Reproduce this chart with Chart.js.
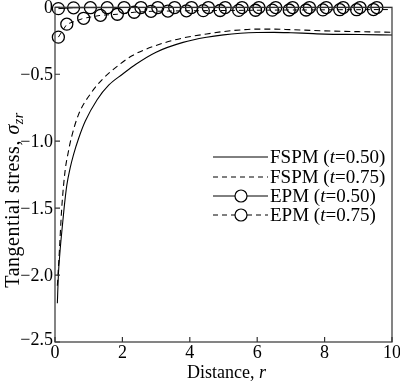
<!DOCTYPE html>
<html>
<head>
<meta charset="utf-8">
<script src="https://cdn.jsdelivr.net/npm/chart.js@4.4.1/dist/chart.umd.min.js"></script>
<style>
  html, body { margin: 0; padding: 0; background: #fff; }
  canvas { display: block; }
</style>
</head>
<body>
<canvas id="grafico" width="400" height="385"></canvas>
<script>
// valores
const fspmX50 = [0.07, 0.1, 0.15, 0.2, 0.27, 0.35, 0.45, 0.55, 0.7, 0.9, 1.25, 1.6, 2.0, 2.4, 3.0, 3.8, 4.5, 5.0, 5.5, 6.0, 6.5, 7.0, 7.5, 8.0, 9.0, 10.0];
const fspmY50 = [-2.21, -2.0, -1.82, -1.68, -1.5, -1.33, -1.2, -1.1, -0.98, -0.85, -0.69, -0.58, -0.5, -0.425, -0.335, -0.262, -0.224, -0.206, -0.194, -0.188, -0.187, -0.19, -0.195, -0.2, -0.203, -0.207];

const fspmX75 = [0.07, 0.13, 0.2, 0.3, 0.38, 0.48, 0.7, 1.1, 1.4, 1.75, 2.3, 3.0, 3.8, 4.5, 5.0, 5.5, 6.0, 6.5, 7.0, 8.0, 9.0, 10.0];
const fspmY75 = [-2.08, -1.82, -1.5, -1.22, -1.1, -0.98, -0.8, -0.63, -0.54, -0.46, -0.36, -0.285, -0.229, -0.199, -0.181, -0.169, -0.163, -0.163, -0.167, -0.176, -0.182, -0.186];

const epmX50 = [0.1, 0.55, 1.05, 1.55, 2.05, 2.55, 3.05, 3.55, 4.05, 4.55, 5.05, 5.55, 6.05, 6.55, 7.05, 7.55, 8.05, 8.55, 9.05, 9.55, 10.0];
const epmY50 = [-0.01, -0.004, -0.003, -0.003, -0.002, -0.002, -0.002, -0.002, -0.002, -0.002, -0.002, -0.002, -0.002, -0.002, -0.002, -0.002, -0.002, -0.002, -0.002, -0.002, -0.002];

const epmX75 = [0.1, 0.35, 0.85, 1.35, 1.85, 2.35, 2.85, 3.35, 3.9, 4.4, 4.9, 5.45, 5.95, 6.45, 6.95, 7.45, 7.95, 8.45, 8.95, 9.45, 10.0];
const epmY75 = [-0.223, -0.126, -0.082, -0.06, -0.052, -0.037, -0.03, -0.028, -0.026, -0.025, -0.024, -0.023, -0.022, -0.021, -0.02, -0.02, -0.019, -0.018, -0.018, -0.017, -0.017];

const xTicks = [0, 2, 4, 6, 8, 10];
const yTicks = [0, -0.5, -1.0, -1.5, -2.0, -2.5];
const yTickLabels = ['0', '\u22120.5', '\u22121.0', '\u22121.5', '\u22122.0', '\u22122.5'];

const serie = (xs, ys) => xs.map((x, i) => ({ x: x, y: ys[i] }));
// el ultimo punto de cada serie EPM solo prolonga la linea hasta el borde
const radioMarca = xs => xs.map((x, i) => (i === xs.length - 1 ? 0 : 6));

const FUENTE = '"Liberation Serif", "Times New Roman", serif';

function textoMixto(ctx, partes, x, y, alinear, espacio) {
    ctx.letterSpacing = (espacio || 0) + 'px';
    let total = 0;
    partes.forEach(p => {
        ctx.font = (p.it ? 'italic ' : '') + p.size + 'px ' + FUENTE;
        total += ctx.measureText(p.t).width;
    });
    let cx = alinear === 'center' ? x - total / 2 : x;
    partes.forEach(p => {
        ctx.font = (p.it ? 'italic ' : '') + p.size + 'px ' + FUENTE;
        ctx.fillText(p.t, cx, y + (p.dy || 0));
        cx += ctx.measureText(p.t).width;
    });
    ctx.letterSpacing = '0px';
}

const leyenda = [
    { dash: [], marca: false, partes: ['FSPM (', 't', '=0.50)'] },
    { dash: [5, 4], marca: false, partes: ['FSPM (', 't', '=0.75)'] },
    { dash: [], marca: true, partes: ['EPM (', 't', '=0.50)'] },
    { dash: [5, 4], marca: true, partes: ['EPM (', 't', '=0.75)'] }
];

const marcoPlugin = {
    id: 'marco',
    afterDraw(chart) {
        const ctx = chart.ctx;
        const a = chart.chartArea;
        const sx = chart.scales.x;
        const sy = chart.scales.y;
        ctx.save();
        ctx.strokeStyle = '#333';
        ctx.fillStyle = '#000';
        ctx.lineWidth = 1.2;
        ctx.strokeRect(a.left, a.top, a.right - a.left, a.bottom - a.top);

        ctx.beginPath();
        xTicks.forEach(v => {
            const px = sx.getPixelForValue(v);
            ctx.moveTo(px, a.bottom);
            ctx.lineTo(px, a.bottom - 5);
        });
        yTicks.forEach(v => {
            const py = sy.getPixelForValue(v);
            ctx.moveTo(a.left, py);
            ctx.lineTo(a.left + 5, py);
        });
        ctx.stroke();

        ctx.font = '18px ' + FUENTE;
        ctx.textAlign = 'center';
        ctx.textBaseline = 'alphabetic';
        xTicks.forEach(v => {
            ctx.fillText(String(v), sx.getPixelForValue(v), a.bottom + 16);
        });
        ctx.textAlign = 'right';
        yTicks.forEach((v, i) => {
            let py = sy.getPixelForValue(v) + 6;
            if (i === yTicks.length - 1) py = a.bottom + 3;
            ctx.fillText(yTickLabels[i], a.left - 2, py);
        });

        ctx.textAlign = 'left';
        textoMixto(ctx, [
            { t: 'Distance, ', size: 18 },
            { t: 'r', size: 18, it: true }
        ], (a.left + a.right) / 2 + 3, 378, 'center');

        ctx.save();
        ctx.translate(19, 200);
        ctx.rotate(-Math.PI / 2);
        textoMixto(ctx, [
            { t: 'Tangential stress, ', size: 20 },
            { t: '\u03c3', size: 20, it: true },
            { t: 'zr', size: 14, it: true, dy: 4 }
        ], 0, 0, 'center', 0.5);
        ctx.restore();

        // leyenda
        const filas = [157, 177, 196, 215];
        leyenda.forEach((item, i) => {
            const y = filas[i];
            ctx.beginPath();
            ctx.setLineDash(item.dash);
            ctx.lineWidth = 1;
            ctx.strokeStyle = '#000';
            if (item.marca) {
                ctx.moveTo(213, y); ctx.lineTo(235, y);
                ctx.moveTo(247, y); ctx.lineTo(268, y);
            } else {
                ctx.moveTo(213, y); ctx.lineTo(268, y);
            }
            ctx.stroke();
            ctx.setLineDash([]);
            if (item.marca) {
                ctx.beginPath();
                ctx.lineWidth = 1.2;
                ctx.arc(241, y, 6, 0, Math.PI * 2);
                ctx.stroke();
            }
            textoMixto(ctx, [
                { t: item.partes[0], size: 19 },
                { t: item.partes[1], size: 19, it: true },
                { t: item.partes[2], size: 19 }
            ], 270, y + 6, 'left');
        });
        ctx.restore();
    }
};

new Chart(document.getElementById('grafico'), {
    type: 'scatter',
    data: {
        datasets: [
            {
                label: 'FSPM (t=0.50)',
                data: serie(fspmX50, fspmY50),
                showLine: true,
                borderColor: '#000',
                borderWidth: 1.1,
                pointRadius: 0,
                cubicInterpolationMode: 'monotone'
            },
            {
                label: 'FSPM (t=0.75)',
                data: serie(fspmX75, fspmY75),
                showLine: true,
                borderColor: '#000',
                borderWidth: 1.1,
                borderDash: [6, 4],
                pointRadius: 0,
                cubicInterpolationMode: 'monotone'
            },
            {
                label: 'EPM (t=0.50)',
                data: serie(epmX50, epmY50),
                showLine: true,
                borderColor: '#000',
                borderWidth: 1,
                pointRadius: radioMarca(epmX50),
                pointBorderWidth: 1.3,
                pointBorderColor: '#000',
                pointBackgroundColor: 'rgba(0,0,0,0)',
                clip: false
            },
            {
                label: 'EPM (t=0.75)',
                data: serie(epmX75, epmY75),
                showLine: true,
                borderColor: '#000',
                borderWidth: 1,
                borderDash: [5, 4],
                pointRadius: radioMarca(epmX75),
                pointBorderWidth: 1.3,
                pointBorderColor: '#000',
                pointBackgroundColor: 'rgba(0,0,0,0)',
                clip: false
            }
        ]
    },
    options: {
        responsive: false,
        animation: false,
        events: [],
        layout: { padding: { left: 55, right: 8, top: 6, bottom: 43 } },
        plugins: {
            legend: { display: false },
            tooltip: { enabled: false }
        },
        scales: {
            x: { type: 'linear', min: 0, max: 10, display: false },
            y: { type: 'linear', min: -2.5, max: 0, display: false }
        }
    },
    plugins: [marcoPlugin]
});
</script>
</body>
</html>
